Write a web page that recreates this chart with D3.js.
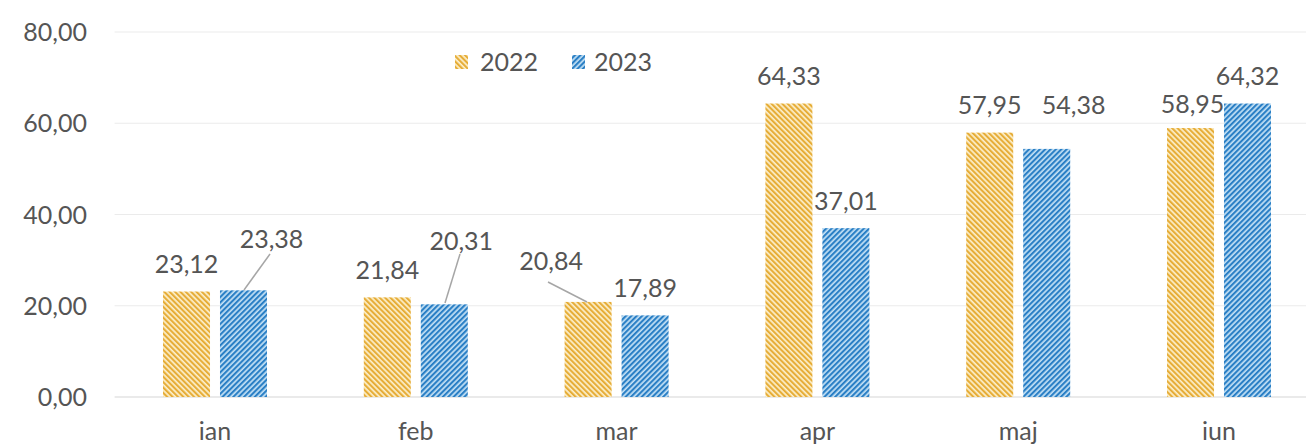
<!DOCTYPE html>
<html><head><meta charset="utf-8">
<script src="https://cdn.jsdelivr.net/npm/d3@7"></script>
<style>body{margin:0;background:#fff}svg{display:block}text{font-family:Lato,"Open Sans",sans-serif}</style>
</head><body>
<svg id="c" width="1306" height="446"></svg>
<script>
const months = ["ian","feb","mar","apr","maj","iun"];
const seriesNames = ["2022","2023"];
const values2022 = [23.12, 21.84, 20.84, 64.33, 57.95, 58.95];
const values2023 = [23.38, 20.31, 17.89, 37.01, 54.38, 64.32];
const yTicks = [0, 20, 40, 60, 80];

// label nudges (layout only), keyed by month|series
const labelNudge = {
  "ian|2023": {dx: 28, dy: -24, leader: [[270,254],[244,290]]},
  "feb|2023": {dx: 17, dy: -36, leader: [[460,254],[445,303]]},
  "mar|2022": {dx: -37, dy: -13, leader: [[548,282],[587,302]]},
  "maj|2023": {dx: 27, dy: -16},
  "iun|2022": {dx: 2, dy: 3}
};

const svg = d3.select("#c");
const defs = svg.append("defs");
function pattern(id, angle, dark, light){
  const w = 3.8;
  const p = defs.append("pattern").attr("id", id).attr("patternUnits","userSpaceOnUse")
    .attr("width", w).attr("height", w).attr("patternTransform", `rotate(${angle})`);
  p.append("rect").attr("width",w).attr("height",w).attr("fill",light);
  p.append("rect").attr("width",2.1).attr("height",w).attr("fill",dark);
}
pattern("p2022", -45, "#e6ad38", "#fcefcb");
pattern("p2023", 45, "#2a7fc5", "#c2e0f5");
const fills = {"2022":"url(#p2022)","2023":"url(#p2023)"};

const y = d3.scaleLinear().domain([0,80]).range([397,32]);
const x0 = d3.scaleBand().domain(months).range([114.6, 1319.4]).padding(0);
const groupW = 104;
const x1 = d3.scaleBand().domain(seriesNames).range([-groupW/2, groupW/2]).paddingInner(0.175);

const textColor = "#555555";
const fs = 25;

// gridlines
svg.append("g").selectAll("line").data(yTicks).join("line")
  .attr("x1", 114.6).attr("x2", 1306)
  .attr("y1", d=>y(d)).attr("y2", d=>y(d))
  .attr("stroke", d=> d===0 ? "#d6d6d6" : "#ebebeb").attr("stroke-width", 1.2);

// y tick labels
const fmt = v => d3.format(".2f")(v).replace(".", ",");
svg.append("g").selectAll("text").data(yTicks).join("text")
  .attr("x", 87).attr("y", d=>y(d)).attr("dy", "0.36em")
  .attr("text-anchor","end").attr("font-size", fs).attr("fill", textColor)
  .text(d=>fmt(d));

// bars
const rows = [];
months.forEach((m,i)=>{
  rows.push({m, s:"2022", v: values2022[i]});
  rows.push({m, s:"2023", v: values2023[i]});
});
const cx = d => x0(d.m) + x0.bandwidth()/2 + x1(d.s);
svg.append("g").selectAll("rect").data(rows).join("rect")
  .attr("x", d=>cx(d)).attr("width", x1.bandwidth())
  .attr("y", d=>y(d.v)).attr("height", d=>y(0)-y(d.v))
  .attr("fill", d=>fills[d.s]);

// leader lines
svg.append("g").selectAll("line").data(rows.filter(d=>labelNudge[d.m+"|"+d.s] && labelNudge[d.m+"|"+d.s].leader))
  .join("line")
  .attr("x1", d=>labelNudge[d.m+"|"+d.s].leader[0][0])
  .attr("y1", d=>labelNudge[d.m+"|"+d.s].leader[0][1])
  .attr("x2", d=>labelNudge[d.m+"|"+d.s].leader[1][0])
  .attr("y2", d=>labelNudge[d.m+"|"+d.s].leader[1][1])
  .attr("stroke", "#a6a6a6").attr("stroke-width", 1.5);

// value labels
svg.append("g").selectAll("text").data(rows).join("text")
  .attr("x", d=>cx(d) + x1.bandwidth()/2 + ((labelNudge[d.m+"|"+d.s]||{}).dx||0))
  .attr("y", d=>y(d.v) - 18.5 + ((labelNudge[d.m+"|"+d.s]||{}).dy||0))
  .attr("text-anchor","middle").attr("font-size", fs).attr("fill", textColor)
  .text(d=>fmt(d.v));

// x labels
svg.append("g").selectAll("text").data(months).join("text")
  .attr("x", d=>x0(d)+x0.bandwidth()/2).attr("y", 440)
  .attr("text-anchor","middle").attr("font-size", fs).attr("fill", textColor)
  .text(d=>d);

// legend
const legend = svg.append("g");
const legendItems = [{s:"2022", sx:455, tx:480},{s:"2023", sx:572, tx:594}];
legendItems.forEach(it=>{
  legend.append("rect").attr("x", it.sx).attr("y", 55).attr("width", 13).attr("height", 14).attr("fill", fills[it.s]);
  legend.append("text").attr("x", it.tx).attr("y", 71).attr("font-size", fs).attr("fill", textColor).text(it.s);
});
</script>
</body></html>
